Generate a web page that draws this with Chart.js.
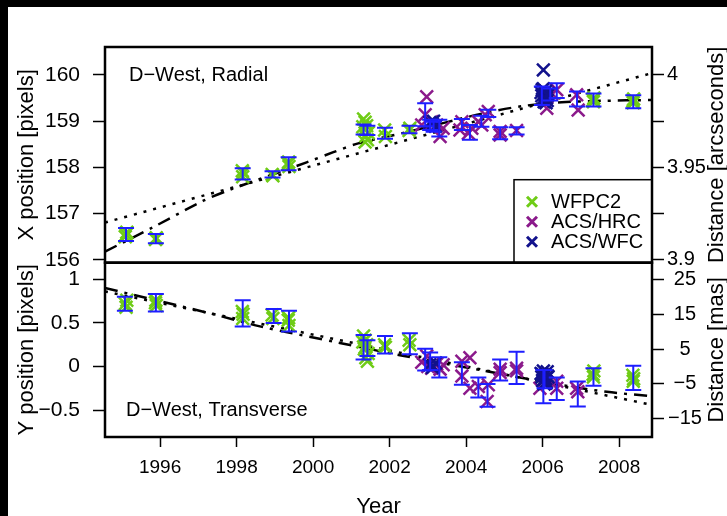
<!DOCTYPE html>
<html>
<head>
<meta charset="utf-8">
<script src="https://cdn.jsdelivr.net/npm/chart.js@4.4.0/dist/chart.umd.min.js"></script>
<style>
  html, body { margin: 0; padding: 0; background: #fff; }
  #page { position: relative; width: 727px; height: 516px; overflow: hidden; background: #fff; }
  #page canvas { position: absolute; left: 0; top: 0; }
  .edge-top { position: absolute; left: 0; top: 0; width: 727px; height: 7px; background: #000; }
  .edge-left { position: absolute; left: 0; top: 0; width: 8px; height: 516px; background: #000; }
</style>
</head>
<body>
<div id="page">
  <canvas id="radial" width="727" height="516"></canvas>
  <canvas id="transverse" width="727" height="516"></canvas>
  <div class="edge-top"></div>
  <div class="edge-left"></div>
</div>
<script>
const FONT = "'Liberation Sans', Arial, Helvetica, sans-serif";
const GREEN = "#6fcc16";
const PURPLE = "#8b1a8b";
const NAVY = "#12128c";
const BAR = "#1e1eff";

// axes
const yearMin = 1994.56, yearMax = 2008.86;
const yearTicks = [1996, 1998, 2000, 2002, 2004, 2006, 2008];
const radialTicks = [156, 157, 158, 159, 160];
const transTicks = [-0.5, 0, 0.5, 1];
const arcsecTicks = [3.9, 3.925, 3.95, 3.975, 4];
const arcsecLabels = [3.9, 3.95, 4];
const masTicks = [-15, -10, -5, 0, 5, 10, 15, 20, 25];
const masLabels = [-15, -5, 5, 15, 25];

// WFPC2 (same epochs in both panels)
const wfpc2Year = [1995.09, 1995.11, 1995.13, 1995.88, 1995.90, 1995.89,
  1998.15, 1998.16, 1998.17, 1998.93, 1998.95, 1999.35, 1999.37, 1999.36,
  2001.30, 2001.32, 2001.34, 2001.36, 2001.38, 2001.40, 2001.42, 2001.44, 2001.36,
  2001.87, 2001.89, 2002.51, 2002.53, 2007.32, 2007.34, 2007.33, 2008.36, 2008.38, 2008.37];
const wfpc2X = [156.50, 156.55, 156.60, 156.44, 156.48, 156.46,
  157.93, 157.80, 157.88, 157.85, 157.82, 158.08, 158.02, 158.12,
  158.88, 159.05, 158.82, 158.98, 158.68, 158.90, 158.60, 158.75, 158.55,
  158.81, 158.67, 158.80, 158.85, 159.46, 159.50, 159.42, 159.44, 159.48, 159.40];
const wfpc2Y = [0.72, 0.68, 0.76, 0.73, 0.70, 0.76,
  0.63, 0.55, 0.60, 0.59, 0.55, 0.53, 0.47, 0.56,
  0.28, 0.35, 0.20, 0.30, 0.10, 0.25, 0.06, 0.15, 0.22,
  0.25, 0.22, 0.30, 0.25, -0.09, -0.05, -0.12, -0.10, -0.14, -0.17];

// ACS/HRC
const hrcRadYear = [2002.97, 2002.93, 2002.84, 2003.10, 2003.23, 2003.32, 2003.40,
  2003.89, 2003.84, 2004.06, 2004.15, 2004.32, 2004.41, 2004.58, 2004.50,
  2004.89, 2004.89, 2005.32, 2006.11, 2006.37, 2006.24, 2006.89, 2006.93];
const hrcX = [159.53, 159.14, 158.92, 158.99, 158.92, 158.67, 158.85,
  158.99, 158.81, 158.74, 158.85, 158.99, 158.92, 159.21, 159.14,
  158.70, 158.78, 158.80, 159.28, 159.68, 159.60, 159.57, 159.24];
const hrcTrYear = [2002.84, 2002.97, 2003.10, 2003.23, 2003.32, 2003.40, 2003.00,
  2003.89, 2003.89, 2004.10, 2004.10, 2004.32, 2004.58, 2004.55,
  2004.89, 2004.89, 2005.32, 2005.32, 2005.93, 2006.37, 2006.37, 2006.89, 2006.92];
const hrcY = [0.05, 0.12, -0.02, 0.03, -0.03, 0.02, 0.00,
  0.06, -0.11, 0.10, -0.25, -0.23, -0.21, -0.40,
  -0.03, -0.07, -0.02, -0.05, -0.25, -0.25, -0.17, -0.25, -0.29];

// ACS/WFC
const wfcRadYear = [2003.05, 2003.12, 2003.20, 2003.15, 2006.02,
  2005.96, 2005.98, 2006.00, 2006.02, 2006.04, 2006.06, 2006.08,
  2006.10, 2006.12, 2006.14, 2005.99, 2006.05, 2006.09, 2006.13];
const wfcX = [158.97, 158.93, 158.89, 159.00, 160.11,
  159.62, 159.55, 159.48, 159.70, 159.42, 159.58, 159.65,
  159.50, 159.45, 159.60, 159.68, 159.52, 159.40, 159.56];
const wfcTrYear = [2003.05, 2003.12, 2003.20, 2003.15,
  2005.96, 2005.98, 2006.00, 2006.02, 2006.04, 2006.06, 2006.08,
  2006.10, 2006.12, 2006.14, 2005.99, 2006.05, 2006.09, 2006.13];
const wfcY = [0.02, -0.01, 0.04, 0.00,
  -0.08, -0.12, -0.16, -0.05, -0.20, -0.10, -0.14,
  -0.18, -0.06, -0.12, -0.09, -0.15, -0.19, -0.11];

// error bars: epoch, centre, half length
const radErrYear = [1995.11, 1995.89, 1998.16, 1998.94, 1999.36, 2001.32, 2001.42, 2001.88, 2002.52,
  2002.93, 2003.06, 2003.15, 2003.30, 2003.89, 2004.10, 2004.40, 2004.58, 2004.89, 2005.32,
  2005.98, 2006.20, 2006.37, 2006.90, 2007.33, 2008.37];
const radErrMid = [156.55, 156.46, 157.86, 157.85, 158.08, 158.82, 158.80, 158.74, 158.82,
  159.14, 158.92, 158.88, 158.85, 158.93, 158.76, 159.00, 159.17, 158.74, 158.79,
  159.55, 159.58, 159.66, 159.48, 159.46, 159.42];
const radErrHalf = [0.14, 0.10, 0.12, 0.07, 0.14, 0.11, 0.10, 0.12, 0.08,
  0.25, 0.11, 0.11, 0.18, 0.12, 0.16, 0.12, 0.08, 0.13, 0.08,
  0.20, 0.13, 0.16, 0.16, 0.14, 0.14];
const trErrYear = [1995.08, 1995.89, 1998.16, 1998.97, 1999.37, 2001.32, 2001.42, 2001.88, 2002.53,
  2002.93, 2003.06, 2003.30, 2003.89, 2004.32, 2004.56, 2004.89, 2005.32,
  2006.02, 2006.05, 2006.37, 2006.92, 2007.33, 2008.37];
const trErrMid = [0.72, 0.73, 0.61, 0.58, 0.52, 0.22, 0.21, 0.25, 0.26,
  0.08, 0.06, -0.01, -0.08, -0.24, -0.33, -0.04, -0.015,
  -0.23, -0.145, -0.255, -0.315, -0.12, -0.13];
const trErrHalf = [0.08, 0.10, 0.15, 0.08, 0.12, 0.14, 0.09, 0.10, 0.12,
  0.125, 0.10, 0.115, 0.13, 0.115, 0.13, 0.12, 0.185,
  0.19, 0.105, 0.13, 0.143, 0.10, 0.14];

// model curves
const radFitYear = [1994.56, 1995.80, 1997.13, 1997.87, 1999.83, 2000.53, 2001.18, 2002.53,
  2003.5, 2004.5, 2005.5, 2006.5, 2007.5, 2008.86];
const radFitX = [156.18, 156.70, 157.28, 157.53, 158.11, 158.33, 158.52, 158.78,
  158.98, 159.18, 159.33, 159.41, 159.44, 159.46];
const radLinYear = [1994.56, 2008.86];
const radLinX = [156.81, 160.04];
const trFitYear = [1994.56, 1997.30, 1998.61, 2000.70, 2002.27, 2004.36, 2006.46, 2007.68, 2008.86];
const trFitY = [0.90, 0.61, 0.46, 0.27, 0.13, -0.04, -0.21, -0.29, -0.34];
const trLinYear = [1994.56, 2008.86];
const trLinY = [0.86, -0.44];

const pts = (xs, ys) => xs.map((x, i) => ({ x: x, y: ys[i] }));
const num = (v) => String(v).replace("-", "\u2212");

const panelDecor = {
  id: "panelDecor",
  afterDatasetsDraw(chart, args, o) {
    const ctx = chart.ctx, x = chart.scales.x, y = chart.scales.y;
    ctx.save();
    ctx.strokeStyle = BAR;
    ctx.lineWidth = 2;
    o.errYear.forEach((yr, i) => {
      const px = x.getPixelForValue(yr);
      const top = y.getPixelForValue(o.errMid[i] + o.errHalf[i]);
      const bot = y.getPixelForValue(o.errMid[i] - o.errHalf[i]);
      ctx.beginPath();
      ctx.moveTo(px, top); ctx.lineTo(px, bot);
      ctx.moveTo(px - 8, top); ctx.lineTo(px + 8, top);
      ctx.moveTo(px - 8, bot); ctx.lineTo(px + 8, bot);
      ctx.stroke();
    });
    ctx.restore();
  },
  afterDraw(chart, args, o) {
    const ctx = chart.ctx, a = chart.chartArea;
    ctx.save();
    // legend
    if (o.legend) {
      const lx = a.right - 138, ly = a.bottom - 83;
      ctx.fillStyle = "#fff";
      ctx.fillRect(lx, ly, a.right - lx, a.bottom - ly);
      ctx.strokeStyle = "#000";
      ctx.lineWidth = 1.5;
      ctx.strokeRect(lx, ly, a.right - lx, a.bottom - ly);
      const items = chart.data.datasets.filter(d => d.legendEntry);
      ctx.font = "20px " + FONT;
      ctx.textBaseline = "middle";
      ctx.textAlign = "left";
      items.forEach((d, i) => {
        const cy = ly + 22 + i * 20, cx = lx + 18;
        ctx.strokeStyle = d.borderColor;
        ctx.lineWidth = 3;
        ctx.beginPath();
        ctx.moveTo(cx - 5, cy - 5); ctx.lineTo(cx + 5, cy + 5);
        ctx.moveTo(cx - 5, cy + 5); ctx.lineTo(cx + 5, cy - 5);
        ctx.stroke();
        ctx.fillStyle = "#000";
        ctx.fillText(d.label, lx + 37, cy + 1);
      });
    }
    // box
    ctx.strokeStyle = "#000";
    ctx.lineWidth = 2.5;
    ctx.strokeRect(a.left, a.top, a.right - a.left, a.bottom - a.top);
    // panel label
    ctx.fillStyle = "#000";
    ctx.font = "20px " + FONT;
    ctx.textAlign = "left";
    ctx.textBaseline = "alphabetic";
    ctx.fillText(o.label, a.left + o.labelDx, o.labelFromTop ? a.top + o.labelDy : a.bottom - o.labelDy);
    // right axis title, reading upwards
    ctx.translate(717, (a.top + a.bottom) / 2);
    ctx.rotate(-Math.PI / 2);
    ctx.font = "22px " + FONT;
    ctx.textAlign = "center";
    ctx.textBaseline = "middle";
    ctx.fillText(o.rightTitle, 0, 0);
    ctx.restore();
  }
};

const tickGrid = (len) => ({
  drawOnChartArea: false, drawTicks: true, tickLength: len,
  tickWidth: 1.5, tickColor: "#000", color: "#000"
});

const scatterSet = (label, data, color, order, legendEntry) => ({
  label: label, data: data, legendEntry: legendEntry, order: order,
  borderColor: color, backgroundColor: color,
  pointStyle: "crossRot", pointRadius: 9, pointBorderWidth: 2.5, showLine: false
});
const lineSet = (data, dash) => ({
  label: "", data: data, order: 10, showLine: true, pointRadius: 0,
  borderColor: "#000", borderWidth: 2.5, borderDash: dash, tension: 0.3, fill: false
});

const xScale = (show) => ({
  type: "linear", position: "bottom", min: yearMin, max: yearMax, display: show,
  afterBuildTicks: s => { s.ticks = yearTicks.map(v => ({ value: v })); },
  ticks: { callback: v => String(v), color: "#000", font: { family: FONT, size: 19 }, padding: 9, maxRotation: 0, autoSkip: false },
  grid: tickGrid(10),
  border: { display: false },
  title: { display: true, text: "Year", color: "#000", font: { family: FONT, size: 22, lineHeight: 1 }, padding: { top: 0, bottom: -2 } },
  afterFit: s => { s.height = show ? 79 : 0; }
});

// top panel: radial
new Chart(document.getElementById("radial"), {
  type: "scatter",
  data: {
    datasets: [
      scatterSet("WFPC2", pts(wfpc2Year, wfpc2X), GREEN, 3, true),
      scatterSet("ACS/HRC", pts(hrcRadYear, hrcX), PURPLE, 2, true),
      scatterSet("ACS/WFC", pts(wfcRadYear, wfcX), NAVY, 1, true),
      lineSet(pts(radFitYear, radFitX), [13, 7, 3, 7]),
      lineSet(pts(radLinYear, radLinX), [3, 7])
    ]
  },
  options: {
    responsive: false, animation: false, events: [],
    layout: { padding: { left: 0, right: 0, top: 47, bottom: 253.3 } },
    plugins: {
      legend: { display: false }, tooltip: { enabled: false },
      panelDecor: {
        errYear: radErrYear, errMid: radErrMid, errHalf: radErrHalf,
        legend: true, label: "D\u2212West, Radial", labelDx: 24, labelDy: 34, labelFromTop: true,
        rightTitle: "Distance [arcseconds]"
      }
    },
    scales: {
      x: xScale(false),
      y: {
        type: "linear", position: "left", min: 155.94, max: 160.605,
        afterBuildTicks: s => { s.ticks = radialTicks.map(v => ({ value: v })); },
        ticks: { callback: v => num(v), color: "#000", font: { family: FONT, size: 21 }, padding: 13 },
        grid: tickGrid(12),
        border: { display: false },
        title: { display: true, text: "X position [pixels]", color: "#000", font: { family: FONT, size: 22 }, padding: { top: 14, bottom: 0 } },
        afterFit: s => { s.width = 105; }
      },
      y2: {
        type: "linear", position: "right", min: 3.8985, max: 4.0151,
        afterBuildTicks: s => { s.ticks = arcsecTicks.map(v => ({ value: v })); },
        ticks: { callback: v => arcsecLabels.includes(v) ? String(v) : "", color: "#000", font: { family: FONT, size: 20 }, padding: 3 },
        grid: tickGrid(12),
        border: { display: false },
        afterFit: s => { s.width = 75; }
      }
    }
  },
  plugins: [panelDecor]
});

// bottom panel: transverse
new Chart(document.getElementById("transverse"), {
  type: "scatter",
  data: {
    datasets: [
      scatterSet("WFPC2", pts(wfpc2Year, wfpc2Y), GREEN, 3, false),
      scatterSet("ACS/HRC", pts(hrcTrYear, hrcY), PURPLE, 2, false),
      scatterSet("ACS/WFC", pts(wfcTrYear, wfcY), NAVY, 1, false),
      lineSet(pts(trFitYear, trFitY), [13, 7, 3, 7]),
      lineSet(pts(trLinYear, trLinY), [3, 7])
    ]
  },
  options: {
    responsive: false, animation: false, events: [],
    layout: { padding: { left: 0, right: 0, top: 262.7, bottom: 0 } },
    plugins: {
      legend: { display: false }, tooltip: { enabled: false },
      panelDecor: {
        errYear: trErrYear, errMid: trErrMid, errHalf: trErrHalf,
        legend: false, label: "D\u2212West, Transverse", labelDx: 21, labelDy: 21, labelFromTop: false,
        rightTitle: "Distance [mas]"
      }
    },
    scales: {
      x: xScale(true),
      y: {
        type: "linear", position: "left", min: -0.808, max: 1.19,
        afterBuildTicks: s => { s.ticks = transTicks.map(v => ({ value: v })); },
        ticks: { callback: v => num(v), color: "#000", font: { family: FONT, size: 21 }, padding: 13 },
        grid: tickGrid(12),
        border: { display: false },
        title: { display: true, text: "Y position [pixels]", color: "#000", font: { family: FONT, size: 22 }, padding: { top: 14, bottom: 0 } },
        afterFit: s => { s.width = 105; }
      },
      y2: {
        type: "linear", position: "right", min: -20.2, max: 29.75,
        afterBuildTicks: s => { s.ticks = masTicks.map(v => ({ value: v })); },
        ticks: { callback: v => masLabels.includes(v) ? num(v) : "", color: "#000", font: { family: FONT, size: 20 }, padding: 4, crossAlign: "center" },
        grid: tickGrid(12),
        border: { display: false },
        afterFit: s => { s.width = 75; }
      }
    }
  },
  plugins: [panelDecor]
});
</script>
</body>
</html>
